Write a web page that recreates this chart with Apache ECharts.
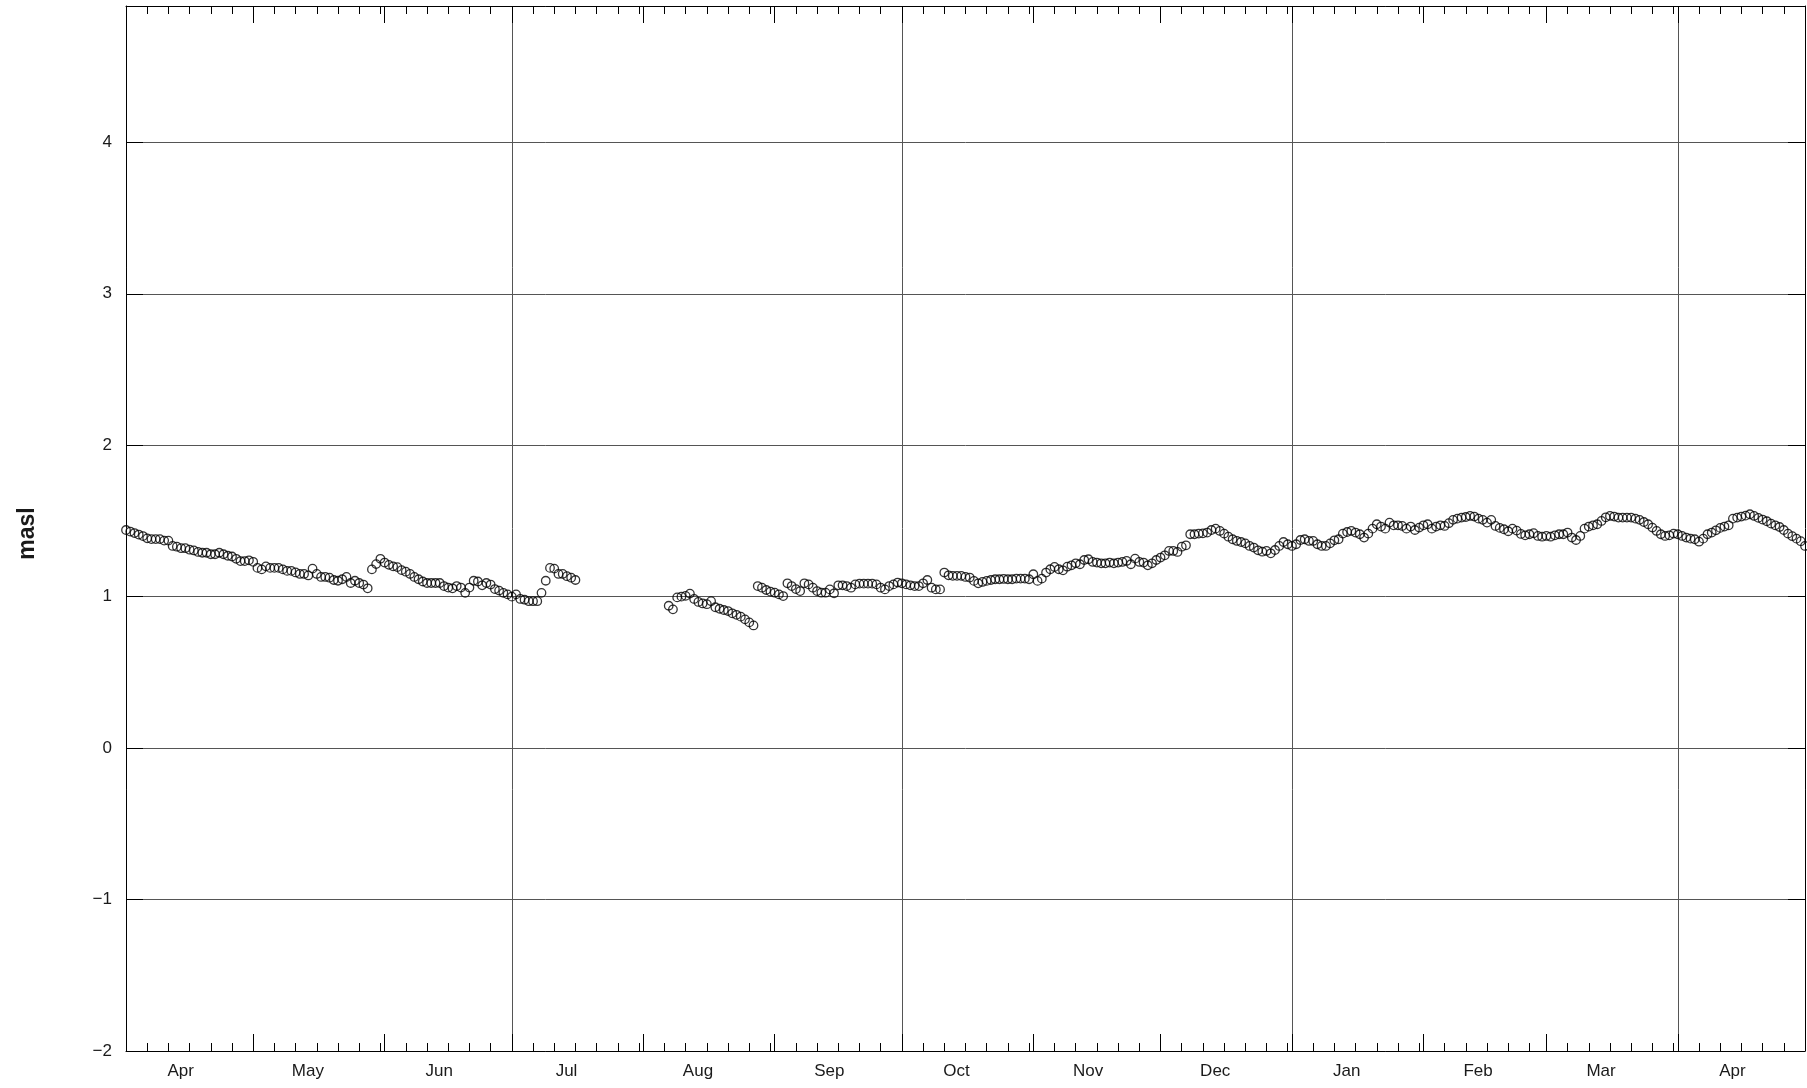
<!DOCTYPE html>
<html>
<head>
<meta charset="utf-8">
<script src="https://cdn.jsdelivr.net/npm/echarts@6/dist/echarts.min.js"></script>
<style>
  html, body { margin: 0; padding: 0; background: #ffffff; }
  #chart { width: 1807px; height: 1088px; }
</style>
</head>
<body>
<div id="chart"></div>
<script>
const DAY = 86400000;

// Daily water level (m a.s.l.), first run of readings from 1 April
const springStart = Date.UTC(2019, 3, 1);
const springLevels = [
  1.44, 1.43, 1.42, 1.41, 1.40, 1.385, 1.38, 1.38, 1.38, 1.37,
  1.37, 1.335, 1.33, 1.32, 1.32, 1.31, 1.305, 1.295, 1.29, 1.29,
  1.28, 1.28, 1.29, 1.28, 1.27, 1.265, 1.25, 1.235, 1.235, 1.24,
  1.23, 1.19, 1.18, 1.2, 1.19, 1.19, 1.19, 1.18, 1.17,
  1.17, 1.16, 1.15, 1.15, 1.14, 1.185, 1.15, 1.13, 1.13, 1.125,
  1.11, 1.105, 1.115, 1.13, 1.09, 1.105, 1.09, 1.08, 1.055,
  1.18, 1.215, 1.25, 1.225, 1.21, 1.2, 1.195, 1.175, 1.165, 1.15,
  1.13, 1.115, 1.1, 1.09, 1.09, 1.09, 1.09, 1.07, 1.06, 1.055, 1.07,
  1.06, 1.025, 1.06, 1.105, 1.1, 1.075, 1.09, 1.08, 1.05, 1.04,
  1.025, 1.015, 1.0, 1.015, 0.985, 0.98, 0.97, 0.97, 0.97, 1.025,
  1.105, 1.19, 1.185, 1.15, 1.15, 1.135, 1.125, 1.11
];

// Second run of readings, from 7 August onwards
const autumnStart = Date.UTC(2019, 7, 7);
const autumnLevels = [
  0.94, 0.916, 0.995, 1.0, 1.005, 1.02, 0.985, 0.965, 0.955, 0.95,
  0.97, 0.93, 0.92, 0.912, 0.905, 0.89, 0.88, 0.868, 0.85, 0.83, 0.81,
  1.07, 1.059, 1.044, 1.033, 1.026, 1.015, 1.004, 1.088, 1.07, 1.05,
  1.037, 1.088, 1.081, 1.059, 1.037, 1.026, 1.026, 1.048, 1.022, 1.075,
  1.075, 1.07, 1.059, 1.081, 1.086, 1.086, 1.086, 1.086, 1.081, 1.059,
  1.048, 1.07, 1.081, 1.093, 1.088, 1.081, 1.075, 1.07, 1.07, 1.088,
  1.11, 1.059, 1.048, 1.048,
  1.159, 1.141, 1.137, 1.137, 1.137, 1.13,
  1.126, 1.104, 1.088, 1.097, 1.104, 1.11, 1.115, 1.115, 1.117, 1.115, 1.115,
  1.119, 1.119, 1.119, 1.115, 1.148, 1.104, 1.119, 1.159, 1.181, 1.196,
  1.181, 1.174, 1.198, 1.207, 1.22, 1.214, 1.242, 1.247, 1.229, 1.225,
  1.22, 1.22, 1.225, 1.22, 1.225, 1.229, 1.236, 1.214, 1.251, 1.229,
  1.225, 1.207, 1.22, 1.242, 1.258, 1.273, 1.302, 1.302, 1.295, 1.33,
  1.339, 1.412, 1.412, 1.416, 1.418, 1.423, 1.44, 1.449, 1.434, 1.416,
  1.396, 1.379, 1.368, 1.361, 1.352, 1.335, 1.324, 1.306, 1.297, 1.302,
  1.286, 1.308, 1.335, 1.361, 1.346, 1.335, 1.346, 1.374, 1.379, 1.368,
  1.368, 1.346, 1.335, 1.335, 1.352, 1.372, 1.379, 1.416, 1.427, 1.434,
  1.423, 1.412, 1.39, 1.416, 1.449, 1.478, 1.463, 1.449, 1.489, 1.471,
  1.471, 1.467, 1.449, 1.463, 1.44, 1.456, 1.471, 1.478, 1.449, 1.463,
  1.471, 1.467, 1.485, 1.507, 1.515, 1.522, 1.526, 1.533, 1.529, 1.515,
  1.507, 1.489, 1.507, 1.467, 1.454, 1.445, 1.432, 1.449, 1.436, 1.414,
  1.405, 1.412, 1.419, 1.401, 1.396, 1.401, 1.396, 1.405, 1.412, 1.412,
  1.423, 1.39, 1.374, 1.401, 1.449, 1.463, 1.471, 1.478, 1.5, 1.524,
  1.533, 1.529, 1.522, 1.522, 1.522, 1.522, 1.515, 1.507, 1.493, 1.478,
  1.456, 1.434, 1.412, 1.401, 1.405, 1.416, 1.412, 1.401, 1.39, 1.383,
  1.379, 1.363, 1.383, 1.412, 1.423, 1.438, 1.454, 1.463, 1.471, 1.515,
  1.522, 1.529, 1.535, 1.544, 1.533, 1.52, 1.509, 1.498, 1.482, 1.471,
  1.46, 1.44, 1.416, 1.399, 1.383, 1.366, 1.335
];

// Axis text
const monthNames = ['Apr', 'May', 'Jun', 'Jul', 'Aug', 'Sep', 'Oct', 'Nov', 'Dec', 'Jan', 'Feb', 'Mar', 'Apr'];
const yTickValues = [-2, -1, 0, 1, 2, 3, 4];
const yName = 'masl';

// ---- derived layout ----
const axisMin = Date.UTC(2019, 3, 1);
const axisMax = Date.UTC(2020, 4, 1);
const monthStarts = monthNames.map((_, i) => Date.UTC(2019, 3 + i, 1));
const labelPositions = monthStarts.map(t => t + 12.9 * DAY);
const quarterStarts = monthStarts.filter((t, i) => i > 0 && i % 3 === 0);
const minorTicks = [];
monthStarts.forEach(t => {
  const d = new Date(t);
  [6, 11, 16, 21, 26, 31].forEach(day => {
    const v = Date.UTC(d.getUTCFullYear(), d.getUTCMonth(), day);
    if (new Date(v).getUTCMonth() === d.getUTCMonth() && v < axisMax) minorTicks.push(v);
  });
});

const toSeries = (start, values) => values.map((v, i) => [start + i * DAY, v]);

const FONT = 'Liberation Sans, Arial, Helvetica, sans-serif';
const INK = '#000000';
const GRID = '#555555';

function monthLabel(v) {
  for (let i = 0; i < labelPositions.length; i++) {
    if (Math.abs(labelPositions[i] - v) < DAY) return monthNames[i];
  }
  return '';
}

function xAxisOf(position, ticks, len, labels, line) {
  return {
    type: 'value', gridIndex: 0, position: position,
    min: axisMin, max: axisMax,
    axisLine: { show: line, onZero: false, lineStyle: { color: INK, width: 1 } },
    axisTick: { show: len > 0, inside: true, length: len, customValues: ticks,
                lineStyle: { color: INK, width: 1 } },
    axisLabel: labels ? {
      show: true, customValues: labelPositions, formatter: monthLabel,
      margin: 12, fontSize: 17, color: '#1a1a1a', fontFamily: FONT
    } : { show: false },
    splitLine: { show: false }
  };
}

function yAxisOf(position, labels) {
  return {
    type: 'value', position: position, min: -2, max: 4.9, interval: 1,
    name: labels ? yName : '',
    nameLocation: 'middle', nameGap: 87, nameRotate: 90,
    nameTextStyle: { fontSize: 23, fontWeight: 'bold', color: '#1a1a1a', fontFamily: FONT,
                     padding: [0, 10, 0, 0] },
    axisLine: { show: true, onZero: false, lineStyle: { color: INK, width: 1 } },
    axisTick: { show: true, inside: true, length: 17, lineStyle: { color: INK, width: 1 } },
    axisLabel: labels ? {
      show: true, margin: 14, fontSize: 17, color: '#1a1a1a', fontFamily: FONT,
      formatter: v => (yTickValues.indexOf(v) >= 0 ? String(v).replace('-', '\u2212') : '')
    } : { show: false },
    splitLine: labels ? { show: true, lineStyle: { color: GRID, width: 1 } } : { show: false }
  };
}

const quarterAxis = xAxisOf('bottom', quarterStarts, 0, false, false);
quarterAxis.splitLine = { show: true, lineStyle: { color: GRID, width: 1 } };

const markerStyle = {
  type: 'scatter', xAxisIndex: 0, yAxisIndex: 0,
  symbol: 'circle', symbolSize: 8.5, clip: false,
  itemStyle: { color: 'rgba(255,255,255,0)', borderColor: '#000000', borderWidth: 1.3 },
  emphasis: { disabled: true }, silent: true, z: 3
};

const chart = echarts.init(document.getElementById('chart'), null, { renderer: 'canvas' });
chart.setOption({
  backgroundColor: '#ffffff',
  animation: false,
  grid: { left: 126, right: 2, top: 6, bottom: 37, containLabel: false },
  xAxis: [
    xAxisOf('bottom', monthStarts, 17, true, true),
    xAxisOf('bottom', minorTicks, 8, false, false),
    xAxisOf('top', monthStarts, 17, false, true),
    xAxisOf('top', minorTicks, 8, false, false),
    quarterAxis
  ],
  yAxis: [
    yAxisOf('left', true),
    yAxisOf('right', false)
  ],
  series: [
    Object.assign({ name: 'spring', data: toSeries(springStart, springLevels) }, markerStyle),
    Object.assign({ name: 'autumn', data: toSeries(autumnStart, autumnLevels) }, markerStyle)
  ]
});
</script>
</body>
</html>
